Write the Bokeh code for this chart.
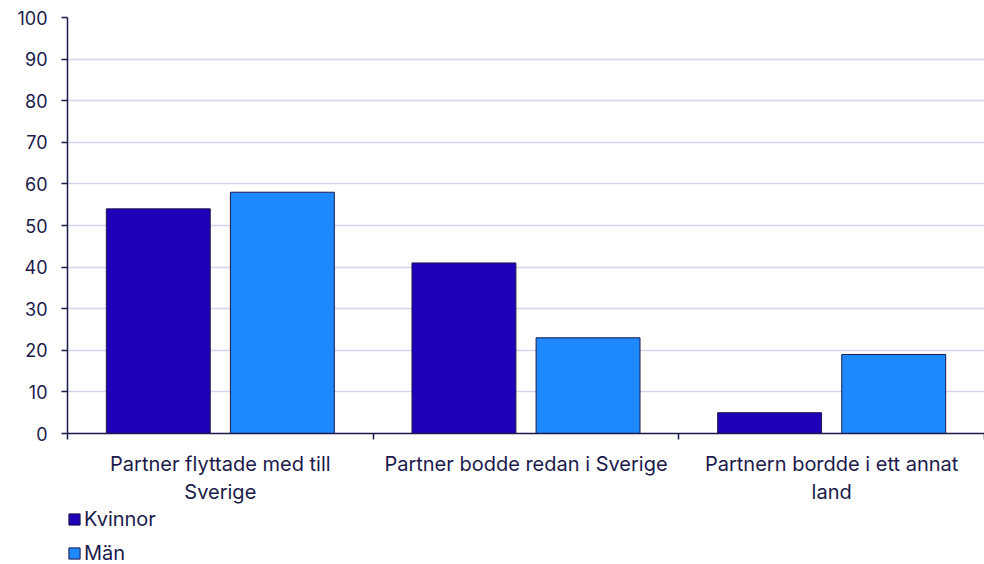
from bokeh.plotting import figure
from bokeh.layouts import column
from bokeh.models import ColumnDataSource, FixedTicker, SingleIntervalTicker, Legend, LegendItem, Range1d
from bokeh.embed import file_html
from bokeh.resources import INLINE

categories = ["Partner flyttade med till\nSverige",
              "Partner bodde redan i Sverige",
              "Partnern bordde i ett annat\nland"]
kvinnor = [54, 41, 5]
man = [58, 23, 19]
series = ["Kvinnor", "Män"]
colors = ["#1f00b8", "#1e88ff"]

TEXT = "#1b1a4b"
FONT = "Inter"

n = len(categories)
offsets = [-0.203, 0.203]
bar_w = 0.34

chart = figure(width=984, height=507, x_range=Range1d(0, n), y_range=Range1d(0, 100),
               output_backend="svg", toolbar_location=None,
               min_border_left=67, min_border_right=0, min_border_top=17, min_border_bottom=74)
chart.outline_line_color = None
chart.background_fill_color = "white"
chart.border_fill_color = "white"

sources = []
for vals, off, col in zip([kvinnor, man], offsets, colors):
    src = ColumnDataSource(dict(x=[i + 0.5 + off for i in range(n)], top=vals))
    sources.append(src)
    chart.vbar(x="x", top="top", width=bar_w, source=src, fill_color=col,
               line_color=TEXT, line_width=1)

# grid
chart.xgrid.grid_line_color = None
chart.ygrid.grid_line_color = "#d4d4f0"
chart.ygrid.grid_line_width = 1.5
chart.ygrid.ticker = SingleIntervalTicker(interval=10)

# y axis
ya = chart.yaxis[0]
ya.ticker = SingleIntervalTicker(interval=10)
ya.axis_line_color = TEXT
ya.axis_line_width = 1.5
ya.major_tick_line_color = TEXT
ya.major_tick_line_width = 1.5
ya.major_tick_out = 6
ya.major_tick_in = 0
ya.minor_tick_line_color = None
ya.major_label_standoff = 14
ya.major_label_text_font = FONT
ya.major_label_text_font_size = "18px"
ya.major_label_text_color = TEXT

# x axis
xa = chart.xaxis[0]
centers = [i + 0.5 for i in range(n)]
xa.ticker = FixedTicker(ticks=centers, minor_ticks=list(range(n + 1)))
xa.major_label_overrides = {c: lab for c, lab in zip(centers, categories)}
xa.axis_line_color = TEXT
xa.axis_line_width = 1.5
xa.major_tick_line_color = None
xa.major_tick_out = 0
xa.major_tick_in = 0
xa.minor_tick_line_color = TEXT
xa.minor_tick_line_width = 1.5
xa.minor_tick_out = 6
xa.minor_tick_in = 0
xa.major_label_standoff = 12
xa.major_label_text_font = FONT
xa.major_label_text_font_size = "20px"
xa.major_label_text_color = TEXT

# legend in its own strip below the chart (bars there fall outside its view range)
leg = figure(width=984, height=57, x_range=Range1d(0, n), y_range=Range1d(1000, 1001),
             output_backend="svg", toolbar_location=None,
             x_axis_location=None, y_axis_location=None,
             min_border_left=0, min_border_right=0, min_border_top=0, min_border_bottom=0)
leg.outline_line_color = None
leg.xgrid.grid_line_color = None
leg.ygrid.grid_line_color = None
leg_renderers = []
for src, col in zip(sources, colors):
    r = leg.vbar(x="x", top="top", width=bar_w, source=src, fill_color=col,
                 line_color=TEXT, line_width=1)
    leg_renderers.append(r)

legend = Legend(items=[LegendItem(label=s, renderers=[r]) for s, r in zip(series, leg_renderers)],
                location=(0, -1), orientation="vertical",
                border_line_color=None, background_fill_alpha=0,
                padding=0, margin=0, spacing=10,
                glyph_width=14, glyph_height=14, label_height=24, label_standoff=3,
                label_text_font=FONT, label_text_font_size="20px", label_text_color=TEXT)
leg.add_layout(legend, "center")

p = column(chart, leg, spacing=0)

open("out.html", "w").write(file_html(p, INLINE))
